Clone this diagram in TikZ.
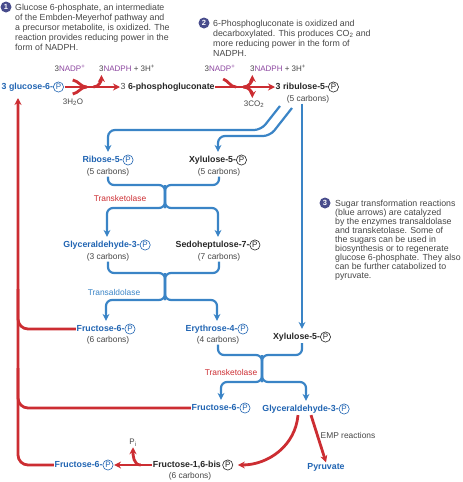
\documentclass[tikz,border=0pt]{standalone}
\usepackage{fontspec}
\setmainfont{Liberation Sans}
\usetikzlibrary{arrows.meta,calc}
\definecolor{lblue}{RGB}{32,100,178}
\definecolor{ablue}{RGB}{58,132,198}
\definecolor{ared}{RGB}{204,45,50}
\definecolor{npurple}{RGB}{140,70,160}
\definecolor{tgray}{RGB}{70,70,70}
\definecolor{snavy}{RGB}{72,76,140}
\newcommand{\Pc}[1]{\tikz[baseline=(pc.base)]\node[circle,draw=#1,text=#1,line width=0.6pt,inner sep=0.9pt,font=\mdseries\fontsize{8}{8}\selectfont] (pc) {P};}
\begin{document}
\begin{tikzpicture}[x=1pt, y=1pt, >={Stealth[length=7pt,width=7pt]},
  lbl/.style={font=\bfseries\fontsize{8.8}{10}\selectfont, text=black!85, inner sep=0.5pt},
  carb/.style={font=\fontsize{8.4}{10}\selectfont, text=tgray, inner sep=0.5pt},
  small/.style={font=\fontsize{8}{10}\selectfont, text=tgray, inner sep=0.5pt},
  note/.style={anchor=north west, align=left, inner sep=0pt, text=tgray, font=\fontsize{8.8}{10}\selectfont},
  stepnum/.style={circle, fill=snavy, text=white, font=\bfseries\fontsize{7.5}{7.5}\selectfont, inner sep=0pt, minimum size=11pt},
  barr/.style={->, draw=ablue, line width=2.2pt, shorten >=2pt},
  bline/.style={draw=ablue, line width=2.2pt},
  rarr/.style={->, draw=ared, line width=2.8pt},
  rline/.style={draw=ared, line width=2.8pt}]
  \useasboundingbox (0,0) rectangle (463,-482);
  % 설명
  \node[stepnum] (s1) at (6,-7) {1};
  \node[note] (t1) at (15,-3.5) {Glucose 6-phosphate, an intermediate\\of the Embden-Meyerhof pathway and\\a precursor metabolite, is oxidized. The\\reaction provides reducing power in the\\form of NADPH.};
  \node[stepnum] (s2) at (204,-23) {2};
  \node[note] (t2) at (213,-19.5) {6-Phosphogluconate is oxidized and\\decarboxylated. This produces CO\textsubscript{2} and\\more reducing power in the form of\\NADPH.};
  \node[stepnum] (s3) at (325,-203) {3};
  \node[note, font=\fontsize{8.8}{9.1}\selectfont] (t3) at (335,-199.5) {Sugar transformation reactions\\(blue arrows) are catalyzed\\by the enzymes transaldolase\\and transketolase. Some of\\the sugars can be used in\\biosynthesis or to regenerate\\glucose 6-phosphate. They also\\can be further catabolized to\\pyruvate.};
  % 산화 단계
  \node[lbl, text=lblue, anchor=west] (glc) at (1,-87) {3 glucose-6-\Pc{lblue}};
  \node[lbl, anchor=west] (pgl) at (120,-87) {{\mdseries\color{tgray}3} 6-phosphogluconate};
  \node[lbl, anchor=west] (rul) at (275,-87) {3 ribulose-5-\Pc{black!85}};
  \node[carb] (rulc) at (308,-99) {(5 carbons)};
  \node[small] (nadp1) at (70,-68) {3\textcolor{npurple}{NADP\textsuperscript{+}}};
  \node[small] (nadph1) at (127,-68) {3\textcolor{npurple}{NADPH} + 3H\textsuperscript{+}};
  \node[small] (h2o) at (73,-102) {3H\textsubscript{2}O};
  \node[small] (nadp2) at (220,-68) {3\textcolor{npurple}{NADP\textsuperscript{+}}};
  \node[small] (nadph2) at (278,-68) {3\textcolor{npurple}{NADPH} + 3H\textsuperscript{+}};
  \node[small] (co2) at (254,-104) {3CO\textsubscript{2}};
  \draw[rarr] (glc.east) -- coordinate[pos=0.4] (m1) coordinate[pos=0.52] (m1b) (pgl.west);
  \draw[rline] ($(m1)+(-14,7)$) to[out=-10,in=180] (m1);
  \draw[rline] ($(m1)+(-14,-7)$) to[out=10,in=180] (m1);
  \draw[rarr] (m1b) to[out=0,in=-90] ++(8,12);
  \draw[rarr] (pgl.east) -- coordinate[pos=0.35] (m2) coordinate[pos=0.47] (m2b) (rul.west);
  \draw[rline] ($(m2)+(-13,8)$) to[out=-20,in=180] (m2);
  \draw[rarr] (m2b) to[out=0,in=-90] ++(9,12);
  \draw[rarr] (m2b) to[out=0,in=90] ++(9,-11);
  % 당 전환 반응
  \node[lbl, text=lblue] (rib) at (108,-160) {Ribose-5-\Pc{lblue}};
  \node[carb] (ribc) at (108,-172) {(5 carbons)};
  \node[lbl] (xyl) at (218,-160) {Xylulose-5-\Pc{black!85}};
  \node[carb] (xylc) at (219,-172) {(5 carbons)};
  \node[carb, text=ared] (tk1) at (120,-198) {Transketolase};
  \node[lbl, text=lblue] (gap) at (107,-245) {Glyceraldehyde-3-\Pc{lblue}};
  \node[carb] (gapc) at (108,-257) {(3 carbons)};
  \node[lbl] (sed) at (218,-245) {Sedoheptulose-7-\Pc{black!85}};
  \node[carb] (sedc) at (219,-257) {(7 carbons)};
  \node[carb, text=ablue] (ta) at (114,-292) {Transaldolase};
  \node[lbl, text=lblue] (f6a) at (106,-329) {Fructose-6-\Pc{lblue}};
  \node[carb] (f6ac) at (108,-340) {(6 carbons)};
  \node[lbl, text=lblue] (ery) at (217,-329) {Erythrose-4-\Pc{lblue}};
  \node[carb] (eryc) at (218,-340) {(4 carbons)};
  \node[lbl] (xyl2) at (302,-337) {Xylulose-5-\Pc{black!85}};
  \node[carb, text=ared] (tk2) at (231,-372) {Transketolase};
  \node[lbl, text=lblue] (f6b) at (221,-408) {Fructose-6-\Pc{lblue}};
  \node[lbl, text=lblue] (gap2) at (306,-409) {Glyceraldehyde-3-\Pc{lblue}};
  \coordinate (ra) at (280,-106);
  \coordinate (rb) at (292,-108);
  \draw[barr, rounded corners=7] (ra) -- (261,-130) -| (rib.north);
  \draw[barr, rounded corners=7] (rb) -- (270,-136) -| (xyl.north);
  \draw[barr] (rulc.south -| xyl2.north) -- (xyl2.north);
  \coordinate (j1t) at (165,-185);
  \coordinate (j1b) at (165,-208);
  \draw[bline, rounded corners=6] (ribc.south) |- (j1t) -- (j1b);
  \draw[bline, rounded corners=6] (xylc.south) |- (j1t) -- (j1b);
  \draw[barr, rounded corners=6] (j1t) -- (j1b) -| (gap.north);
  \draw[barr, rounded corners=6] (j1t) -- (j1b) -| (sed.north);
  \coordinate (j2t) at (165,-273);
  \coordinate (j2b) at (165,-300);
  \draw[bline, rounded corners=6] (gapc.south) |- (j2t) -- (j2b);
  \draw[bline, rounded corners=6] (sedc.south) |- (j2t) -- (j2b);
  \draw[barr, rounded corners=6] (j2t) -- (j2b) -| (f6a.north);
  \draw[barr, rounded corners=6] (j2t) -- (j2b) -| (ery.north);
  \coordinate (j3t) at (262,-355);
  \coordinate (j3b) at (262,-382);
  \draw[bline, rounded corners=6] (eryc.south) |- (j3t) -- (j3b);
  \draw[bline, rounded corners=6] (xyl2.south) |- (j3t) -- (j3b);
  \draw[barr, rounded corners=6] (j3t) -- (j3b) -| (f6b.north);
  \draw[barr, rounded corners=6] (j3t) -- (j3b) -| (gap2.north);
  % 해당과정 및 재생
  \node[carb, anchor=west] (emp) at (320,-435) {EMP reactions};
  \node[lbl, text=lblue] (pyr) at (326,-467) {Pyruvate};
  \node[lbl] (fbp) at (193,-465) {Fructose-1,6-bis\,\Pc{black!85}};
  \node[carb] (fbpc) at (190,-476) {(6 carbons)};
  \node[lbl, text=lblue] (f6c) at (84,-465) {Fructose-6-\Pc{lblue}};
  \node[small] (pi) at (133,-443) {P\textsubscript{i}};
  \draw[rarr] ([xshift=-8pt]gap2.south) to[out=-95,in=0] ([xshift=4pt]fbp.east);
  \draw[rarr] ([xshift=5pt]gap2.south) -- (pyr.north);
  \draw[rarr] (fbp.west) -- coordinate[pos=0.3] (pib) (f6c.east);
  \draw[rarr] (pib) to[out=180,in=-90] (pi.south);
  \coordinate (gtip) at (18,-98);
  \draw[rarr, rounded corners=10] (f6c.west) -| (gtip);
  \draw[rline, rounded corners=10] (f6b.west) -| ($(f6b.west -| gtip)+(0,40)$);
  \draw[rline, rounded corners=10] (f6a.west) -| ($(f6a.west -| gtip)+(0,40)$);
\end{tikzpicture}
\end{document}
